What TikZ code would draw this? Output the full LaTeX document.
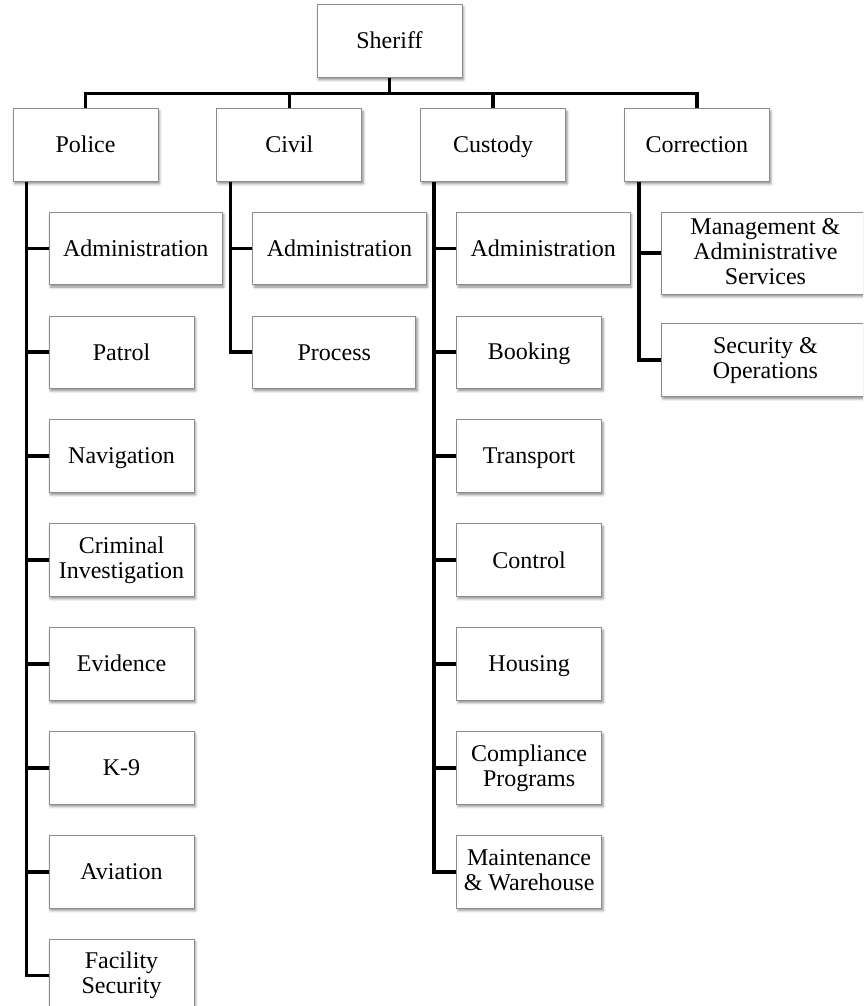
\documentclass[tikz,border=0pt]{standalone}
\usepackage{fontspec}
\setmainfont{Liberation Serif}
\usetikzlibrary{positioning,shadows.blur}

\begin{document}
\begin{tikzpicture}[
        x=1pt, y=-1pt,
        font=\fontsize{24}{25}\selectfont,
        box/.style={draw=black!45, line width=0.8pt, fill=white, align=center,
            minimum width=145pt, minimum height=72.5pt, inner xsep=14pt, inner ysep=4pt,
            execute at begin node={\rule{0pt}{20pt}},
            execute at end node={\rule[-4pt]{0pt}{4pt}},
            blur shadow={shadow xshift=1.5pt, shadow yshift=-2.5pt,
                shadow blur radius=2.5pt, shadow opacity=45}},
        link/.style={line width=3.6pt},
    ]
    \clip (0,0) rectangle (863,1006);

    % Top level and the four divisions
    \node[box] (sheriff) at (389.5,41) {Sheriff};
    \node[box] (police) at (85.5,145) {Police};
    \node[box, right=58pt of police] (civil) {Civil};
    \node[box, right=58pt of civil] (custody) {Custody};
    \node[box, right=58pt of custody] (correction) {Correction};

    \coordinate[below=16pt of sheriff] (bus);
    \draw[link] (sheriff) -- (bus);
    \draw[link] (police.north) |- (bus) -| (correction.north);
    \draw[link] (civil.north) -- (civil.north |- bus);
    \draw[link] (custody.north) -- (custody.north |- bus);

    % Police units
    \coordinate[right=14pt of police.south west] (pspine);
    \node[box, below right=30pt and 22pt of pspine] (padmin) {Administration};
    \node[box, below=30.6pt of padmin.south west, anchor=north west] (ppatrol) {Patrol};
    \node[box, below=30.6pt of ppatrol.south west, anchor=north west] (pnav) {Navigation};
    \node[box, inner xsep=4pt, below=30.6pt of pnav.south west, anchor=north west] (pcrim) {Criminal\\ Investigation};
    \node[box, below=30.6pt of pcrim.south west, anchor=north west] (pevid) {Evidence};
    \node[box, below=30.6pt of pevid.south west, anchor=north west] (pk9) {K-9};
    \node[box, below=30.6pt of pk9.south west, anchor=north west] (paviation) {Aviation};
    \node[box, below=30.6pt of paviation.south west, anchor=north west] (pfacility) {Facility\\ Security};

    \draw[link] (pspine) |- (pfacility.west);
    \draw[link] (padmin.west) -- (padmin.west -| pspine);
    \draw[link] (ppatrol.west) -- (ppatrol.west -| pspine);
    \draw[link] (pnav.west) -- (pnav.west -| pspine);
    \draw[link] (pcrim.west) -- (pcrim.west -| pspine);
    \draw[link] (pevid.west) -- (pevid.west -| pspine);
    \draw[link] (pk9.west) -- (pk9.west -| pspine);
    \draw[link] (paviation.west) -- (paviation.west -| pspine);

    % Civil units
    \coordinate[right=14pt of civil.south west] (vspine);
    \node[box, below right=30pt and 22pt of vspine] (vadmin) {Administration};
    \node[box, minimum width=163pt, below=30.6pt of vadmin.south west, anchor=north west] (vprocess) {Process};

    \draw[link] (vspine) |- (vprocess.west);
    \draw[link] (vadmin.west) -- (vadmin.west -| vspine);

    % Custody units
    \coordinate[right=14pt of custody.south west] (cspine);
    \node[box, below right=30pt and 22pt of cspine] (cadmin) {Administration};
    \node[box, below=30.6pt of cadmin.south west, anchor=north west] (cbooking) {Booking};
    \node[box, below=30.6pt of cbooking.south west, anchor=north west] (ctransport) {Transport};
    \node[box, below=30.6pt of ctransport.south west, anchor=north west] (ccontrol) {Control};
    \node[box, below=30.6pt of ccontrol.south west, anchor=north west] (chousing) {Housing};
    \node[box, below=30.6pt of chousing.south west, anchor=north west] (ccompliance) {Compliance\\ Programs};
    \node[box, inner xsep=3pt, below=30.6pt of ccompliance.south west, anchor=north west] (cmaint) {Maintenance\\ \& Warehouse};

    \draw[link] (cspine) |- (cmaint.west);
    \draw[link] (cadmin.west) -- (cadmin.west -| cspine);
    \draw[link] (cbooking.west) -- (cbooking.west -| cspine);
    \draw[link] (ctransport.west) -- (ctransport.west -| cspine);
    \draw[link] (ccontrol.west) -- (ccontrol.west -| cspine);
    \draw[link] (chousing.west) -- (chousing.west -| cspine);
    \draw[link] (ccompliance.west) -- (ccompliance.west -| cspine);

    % Correction units
    \coordinate[right=15pt of correction.south west] (rspine);
    \node[box, minimum width=208pt, minimum height=82pt, below right=30pt and 22pt of rspine] (rmgmt) {Management \&\\ Administrative\\ Services};
    \node[box, minimum width=208pt, below=29pt of rmgmt.south west, anchor=north west] (rsecurity) {Security \&\\ Operations};

    \draw[link] (rspine) |- (rsecurity.west);
    \draw[link] (rmgmt.west) -- (rmgmt.west -| rspine);
\end{tikzpicture}
\end{document}
